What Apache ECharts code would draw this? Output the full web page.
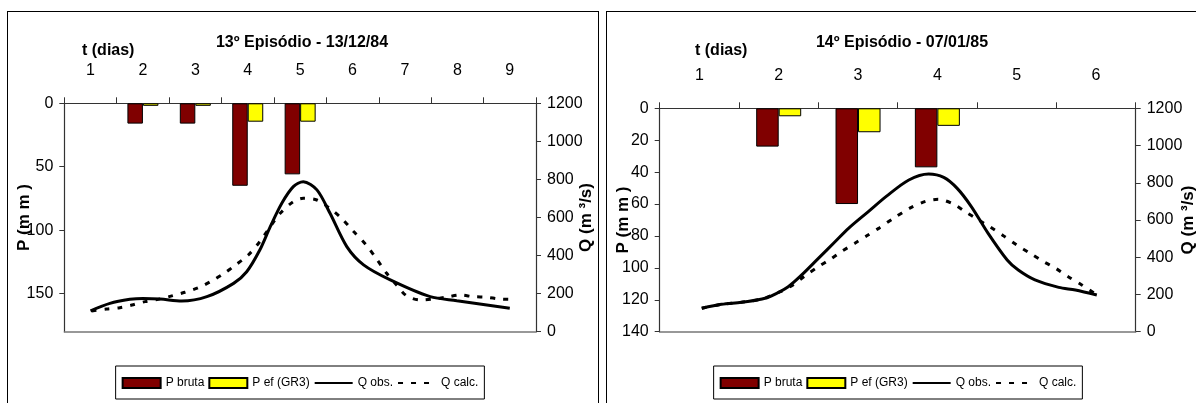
<!DOCTYPE html>
<html>
<head>
<meta charset="utf-8">
<script src="https://cdn.jsdelivr.net/npm/echarts@6/dist/echarts.min.js"></script>
<style>
  html, body { margin: 0; padding: 0; background: #fff; }
  body { width: 1196px; height: 403px; position: relative; overflow: hidden; }
  .frame { position: absolute; border: 1px solid #000; box-sizing: border-box; }
  .chart { position: absolute; top: 0; height: 403px; }
</style>
</head>
<body>
<div class="frame" style="left:7px;top:11px;width:592px;height:400px;"></div>
<div class="frame" style="left:606px;top:11px;width:592px;height:400px;"></div>
<div id="c1" class="chart" style="left:0;width:600px;"></div>
<div id="c2" class="chart" style="left:600px;width:596px;"></div>
<script>
// ---------- Episode 13 (13/12/84) ----------
const days13 = ['1', '2', '3', '4', '5', '6', '7', '8', '9'];
const pBruta13 = [null, 16, 16, 65, 56, null, null, null, null];
const pEf13 = [null, 2, 2, 14.5, 14.5, null, null, null, null];
const qObsT13 = [1.0, 1.37, 1.75, 2.0, 2.33, 2.74, 3.22, 3.73, 3.98, 4.23, 4.43, 4.65, 4.87, 5.06, 5.32, 5.57, 5.89, 6.21, 6.72, 7.48, 7.99, 9.0];
const qObs13 = [110, 149, 170, 175, 172, 161, 184, 254, 315, 429, 552, 675, 762, 788, 745, 622, 447, 351, 272, 184, 163, 123];
const qCalcT13 = [1.02, 1.31, 1.56, 1.79, 2.04, 2.29, 2.55, 2.80, 3.06, 3.31, 3.53, 3.77, 4.01, 4.23, 4.43, 4.62, 4.87, 5.06, 5.32, 5.56, 5.79, 6.02, 6.26, 6.45, 6.65, 6.84, 7.03, 7.29, 7.54, 7.78, 8.05, 8.31, 8.56, 8.80, 9.0];
const qCalc13 = [109, 119, 126, 140, 158, 170, 188, 207, 231, 266, 303, 351, 403, 473, 552, 622, 683, 701, 692, 649, 596, 526, 456, 386, 307, 245, 189, 167, 172, 181, 193, 184, 181, 172, 170];

// ---------- Episode 14 (07/01/85) ----------
const days14 = ['1', '2', '3', '4', '5', '6'];
const pBruta14 = [null, 24, 60, 37, null, null];
const pEf14 = [null, 5, 15, 11, null, null];
const qObsT14 = [1.03, 1.28, 1.53, 1.79, 1.91, 2.12, 2.29, 2.50, 2.71, 2.88, 3.13, 3.36, 3.64, 3.89, 4.08, 4.25, 4.43, 4.64, 4.88, 5.02, 5.23, 5.53, 5.74, 6.01];
const qObs14 = [126, 147, 158, 176, 193, 242, 305, 394, 483, 555, 645, 728, 815, 847, 829, 770, 671, 528, 385, 331, 278, 238, 224, 197];
const qCalcT14 = [1.03, 1.28, 1.53, 1.79, 2.02, 2.18, 2.33, 2.50, 2.65, 2.79, 2.96, 3.11, 3.26, 3.45, 3.66, 3.85, 4.01, 4.20, 4.35, 4.52, 4.66, 4.83, 5.00, 5.17, 5.34, 5.49, 5.65, 5.82, 5.97, 6.0];
const qCalc14 = [126, 147, 158, 176, 215, 251, 300, 349, 389, 430, 475, 515, 555, 610, 665, 700, 711, 686, 645, 600, 564, 516, 466, 421, 376, 341, 295, 251, 209, 200];

const legendNames = ['P bruta', 'P ef (GR3)', 'Q obs.', 'Q calc.'];
const titles = ['13º Episódio - 13/12/84', '14º Episódio - 07/01/85'];

const FONT = "'Liberation Sans', Arial, sans-serif";

function pairs(ts, vs) { return ts.map((t, i) => [t, vs[i]]); }

function build(cfg) {
  const n = cfg.days.length;
  const noMarker = { color: 'rgba(0,0,0,0)', borderColor: 'rgba(0,0,0,0)', borderWidth: 0 };
  return {
    animation: false,
    backgroundColor: 'transparent',
    textStyle: { fontFamily: FONT, color: '#000' },
    title: [
      { text: cfg.title, left: cfg.titleX, top: 30, textAlign: 'center',
        textStyle: { fontFamily: FONT, fontSize: 16, fontWeight: 'bold', color: '#000' } },
      { text: 't (dias)', left: cfg.tX, top: 38,
        textStyle: { fontFamily: FONT, fontSize: 16, fontWeight: 'bold', color: '#000' } }
    ],
    legend: {
      data: [
        { name: legendNames[0], icon: 'rect' },
        { name: legendNames[1], icon: 'rect' },
        { name: legendNames[2], itemStyle: noMarker },
        { name: legendNames[3], itemStyle: noMarker }
      ],
      left: 'center', top: 366,
      padding: [11, 6, 10, 6],
      itemWidth: 38, itemHeight: 10, itemGap: 4,
      borderColor: '#000', borderWidth: 1,
      textStyle: { fontFamily: FONT, fontSize: 12, color: '#000' }
    },
    grid: { left: cfg.gl, right: cfg.gr, top: cfg.gt, bottom: 71.3, containLabel: false, outerBoundsMode: 'none' },
    xAxis: [
      { type: 'category', data: cfg.days, position: 'top',
        axisLine: { show: true, lineStyle: { color: '#333', width: 1.2 } },
        axisTick: { show: true, length: 6, lineStyle: { color: '#333' } },
        axisLabel: { fontFamily: FONT, fontSize: 16, color: '#000', margin: 25 },
        splitLine: { show: false } },
      { type: 'value', min: 0.5, max: n + 0.5, position: 'bottom',
        axisLine: { show: true, onZero: false, lineStyle: { color: '#777', width: 1.5 } },
        axisTick: { show: false }, axisLabel: { show: false }, splitLine: { show: false } }
    ],
    yAxis: [
      { type: 'value', inverse: true, min: 0, max: cfg.pMax, interval: cfg.pInt, position: 'left',
        name: 'P (m m )', nameLocation: 'middle', nameRotate: 90, nameGap: cfg.pGap, nameMoveOverlap: false,
        nameTextStyle: { fontFamily: FONT, fontSize: 17, fontWeight: 'bold', color: '#000' },
        axisLine: { show: true, lineStyle: { color: '#333', width: 1.2 } },
        axisTick: { show: true, length: 5, lineStyle: { color: '#333' }, customValues: cfg.pTicks },
        axisLabel: { fontFamily: FONT, fontSize: 16, color: '#000', margin: 11, customValues: cfg.pTicks,
          formatter: v => String(v) },
        splitLine: { show: false } },
      { type: 'value', min: 0, max: 1200, interval: 200, position: 'right',
        name: 'Q (m ³/s)', nameLocation: 'middle', nameRotate: 90, nameGap: cfg.qGap, nameMoveOverlap: false,
        nameTextStyle: { fontFamily: FONT, fontSize: 17, fontWeight: 'bold', color: '#000' },
        axisLine: { show: true, lineStyle: { color: '#333', width: 1.2 } },
        axisTick: { show: true, length: 5, lineStyle: { color: '#333' } },
        axisLabel: { fontFamily: FONT, fontSize: 16, color: '#000', margin: 11, formatter: v => String(v) },
        splitLine: { show: false } }
    ],
    series: [
      { name: legendNames[0], type: 'bar', xAxisIndex: 0, yAxisIndex: 0, data: cfg.pb,
        barWidth: cfg.bw, barGap: '0%',
        itemStyle: { color: '#800000', borderColor: '#000', borderWidth: 1 } },
      { name: legendNames[1], type: 'bar', xAxisIndex: 0, yAxisIndex: 0, data: cfg.pe,
        barWidth: cfg.bw, barGap: '0%',
        itemStyle: { color: '#ffff00', borderColor: '#000', borderWidth: 1 } },
      { name: legendNames[2], type: 'line', xAxisIndex: 1, yAxisIndex: 1, data: cfg.qo,
        smooth: 0.3, symbol: 'none', z: 5,
        lineStyle: { color: '#000', width: 3 }, itemStyle: { color: '#000' } },
      { name: legendNames[3], type: 'line', xAxisIndex: 1, yAxisIndex: 1, data: cfg.qc,
        smooth: 0.3, symbol: 'none', z: 5,
        lineStyle: { color: '#000', width: 3, type: [5, 8], cap: 'butt' }, itemStyle: { color: '#000' } }
    ]
  };
}

const c1 = echarts.init(document.getElementById('c1'), null, { renderer: 'canvas' });
c1.setOption(build({
  days: days13, title: titles[0], titleX: 297, tX: 77,
  gl: 64.3, gr: 64, gt: 103.3,
  pMax: 180, pInt: 50, pTicks: [0, 50, 100, 150], pGap: 31, qGap: 42,
  bw: 15.5,
  pb: pBruta13, pe: pEf13,
  qo: pairs(qObsT13, qObs13), qc: pairs(qCalcT13, qCalc13)
}));

const c2 = echarts.init(document.getElementById('c2'), null, { renderer: 'canvas' });
c2.setOption(build({
  days: days14, title: titles[1], titleX: 297, tX: 90,
  gl: 59.7, gr: 60.3, gt: 108.3,
  pMax: 140, pInt: 20, pTicks: [0, 20, 40, 60, 80, 100, 120, 140], pGap: 28, qGap: 44,
  bw: 22.5,
  pb: pBruta14, pe: pEf14,
  qo: pairs(qObsT14, qObs14), qc: pairs(qCalcT14, qCalc14)
}));
</script>
</body>
</html>
